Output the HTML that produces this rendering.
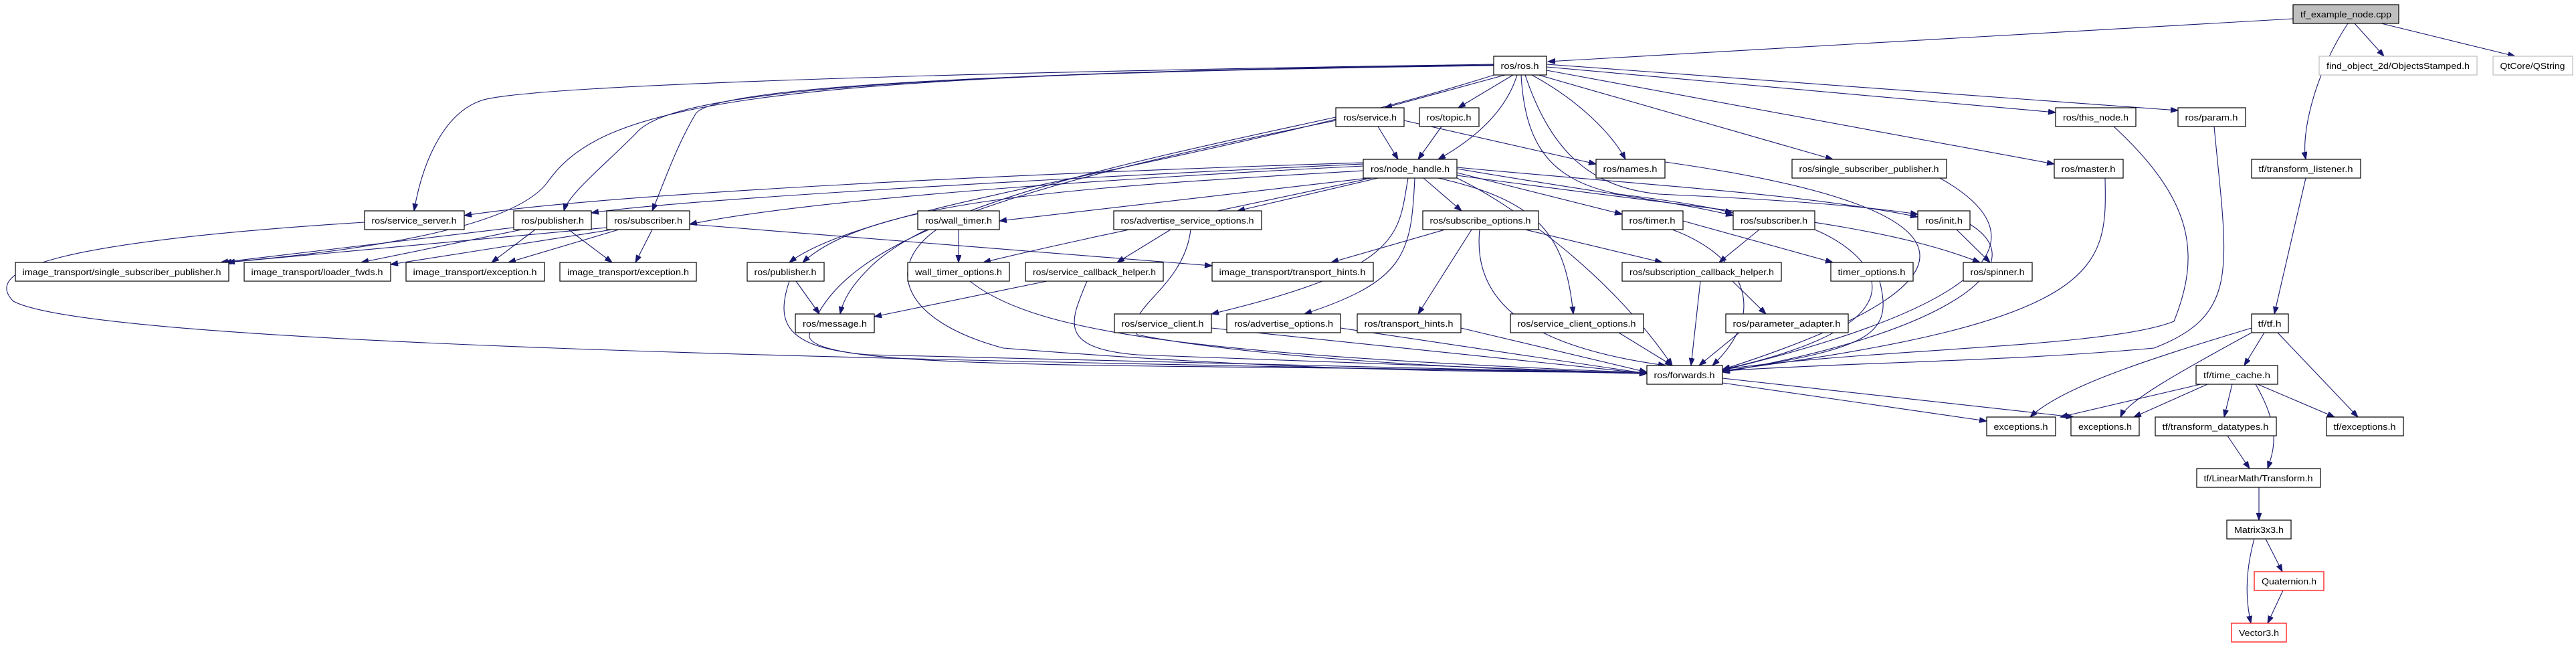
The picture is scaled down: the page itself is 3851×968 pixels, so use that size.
<!DOCTYPE html>
<html><head><meta charset="utf-8"><style>
html,body{margin:0;padding:0;background:#fff;}
svg{display:block;}
text{font-family:"Liberation Sans",sans-serif;font-size:13px;fill:#000;}
.n{fill:#fff;stroke:#000;stroke-width:1.2;}
.e{fill:none;stroke:#191970;stroke-width:1.1;marker-end:url(#ah);}
</style></head><body>
<svg width="3851" height="968" viewBox="0 0 3851 968" xmlns="http://www.w3.org/2000/svg">
<defs><marker id="ah" markerUnits="userSpaceOnUse" markerWidth="12" markerHeight="9" refX="11" refY="4" orient="auto"><path d="M0,0 L11,4 L0,8 z" fill="#191970" stroke="#191970"/></marker></defs>
<g>
<path class="e" d="M3428,28 L2314,92"/>
<path class="e" d="M3520,35 L3564,84"/>
<path class="e" d="M3560,35 L3760,84"/>
<path class="e" d="M3510,35 C3460,110 3440,200 3447,238"/>
<path class="e" d="M2233,96 C1300,110 780,130 720,150 C660,170 630,250 619,315"/>
<path class="e" d="M2233,98 C1100,110 900,160 820,270 C780,330 600,370 335,392"/>
<path class="e" d="M2233,97 C1200,110 990,150 950,200 C900,250 850,290 843,315"/>
<path class="e" d="M2233,98 C1300,110 1060,140 1040,170 C1010,220 990,280 975,315"/>
<path class="e" d="M2240,110 C1800,250 1300,300 1180,392"/>
<path class="e" d="M2250,112 L2070,161"/>
<path class="e" d="M2262,112 L2180,161"/>
<path class="e" d="M2268,112 C2250,170 2200,210 2150,238"/>
<path class="e" d="M2290,112 C2360,150 2410,200 2430,238"/>
<path class="e" d="M2274,112 C2280,220 2320,270 2420,290 C2500,300 2560,310 2590,318"/>
<path class="e" d="M2280,112 C2320,230 2380,280 2480,290 C2700,300 2800,310 2867,320"/>
<path class="e" d="M2300,112 L2740,238"/>
<path class="e" d="M2312,105 L3071,245"/>
<path class="e" d="M2312,100 L3073,168"/>
<path class="e" d="M2312,96 L3256,165"/>
<path class="e" d="M2060,189 L2090,238"/>
<path class="e" d="M2155,189 L2120,238"/>
<path class="e" d="M2099,180 L2386,245"/>
<path class="e" d="M1997,175 C1700,240 1400,300 1300,400 C1270,430 1260,450 1256,469"/>
<path class="e" d="M1997,180 C1500,280 1250,360 1210,500 C1200,560 1800,540 2462,558"/>
<path class="e" d="M2038,243 C1500,260 900,290 694,322"/>
<path class="e" d="M2038,245 C1500,270 1000,300 884,318"/>
<path class="e" d="M2038,248 C1600,270 1200,300 1031,335"/>
<path class="e" d="M2045,266 L1494,330"/>
<path class="e" d="M2060,266 L1850,315"/>
<path class="e" d="M2128,266 L2185,315"/>
<path class="e" d="M2178,258 L2425,320"/>
<path class="e" d="M2178,252 C2400,290 2500,300 2591,322"/>
<path class="e" d="M2178,250 C2500,280 2700,290 2867,324"/>
<path class="e" d="M2038,255 C1600,280 1300,300 1200,392"/>
<path class="e" d="M2050,266 C1800,320 1600,360 1470,392"/>
<path class="e" d="M2105,266 C2090,350 2100,400 1811,469"/>
<path class="e" d="M2115,266 C2110,380 2100,420 1950,469"/>
<path class="e" d="M2150,266 C2300,300 2340,350 2352,469"/>
<path class="e" d="M2178,262 C2600,320 2800,330 2960,392"/>
<path class="e" d="M2178,266 C2250,300 2400,400 2500,546"/>
<path class="e" d="M1433,343 L1433,392"/>
<path class="e" d="M1400,343 C1320,400 1350,480 1500,520 C2000,560 2300,555 2462,556"/>
<path class="e" d="M1750,343 L1670,392"/>
<path class="e" d="M1780,343 C1770,430 1680,460 1700,500 C1900,540 2300,555 2462,558"/>
<path class="e" d="M1031,335 L1812,397"/>
<path class="e" d="M907,340 L340,392"/>
<path class="e" d="M915,343 L584,395"/>
<path class="e" d="M925,343 L760,392"/>
<path class="e" d="M975,343 L950,392"/>
<path class="e" d="M768,340 L330,392"/>
<path class="e" d="M780,343 L540,392"/>
<path class="e" d="M800,343 L735,392"/>
<path class="e" d="M850,343 L915,392"/>
<path class="e" d="M545,332 C100,360 -30,400 20,450 C150,520 1500,540 2462,558"/>
<path class="e" d="M1190,420 L1225,469"/>
<path class="e" d="M1180,420 C1160,480 1170,520 1300,530 L2462,558"/>
<path class="e" d="M1565,420 L1307,473"/>
<path class="e" d="M1625,420 C1600,480 1580,520 1700,530 L2462,558"/>
<path class="e" d="M1450,420 C1550,500 1800,530 2462,557"/>
<path class="e" d="M2160,343 L1990,392"/>
<path class="e" d="M2280,343 L2485,392"/>
<path class="e" d="M2200,343 L2120,469"/>
<path class="e" d="M2212,343 C2200,460 2300,520 2490,546"/>
<path class="e" d="M2516,330 L2740,392"/>
<path class="e" d="M2500,343 C2600,380 2650,460 2560,546"/>
<path class="e" d="M2630,343 L2570,392"/>
<path class="e" d="M2713,343 C2800,380 2900,480 2575,552"/>
<path class="e" d="M2925,343 L2975,392"/>
<path class="e" d="M2945,335 C3050,400 2900,500 2575,556"/>
<path class="e" d="M2590,420 L2640,469"/>
<path class="e" d="M2542,420 L2528,546"/>
<path class="e" d="M2810,420 C2830,500 2800,520 2575,555"/>
<path class="e" d="M2600,497 L2540,546"/>
<path class="e" d="M1811,490 L2462,558"/>
<path class="e" d="M2004,490 L2462,558"/>
<path class="e" d="M2184,490 L2462,556"/>
<path class="e" d="M2420,497 L2500,546"/>
<path class="e" d="M2489,242 C2900,300 3050,400 2575,552"/>
<path class="e" d="M2900,266 C3050,350 3000,450 2575,553"/>
<path class="e" d="M3147,266 C3150,400 3150,480 2575,554"/>
<path class="e" d="M3160,189 C3280,300 3290,380 3250,480 C3150,520 2800,520 2575,552"/>
<path class="e" d="M3310,189 C3330,400 3350,470 3220,520 C3000,540 2800,540 2575,554"/>
<path class="e" d="M2575,572 L2970,629"/>
<path class="e" d="M2575,565 L3100,623"/>
<path class="e" d="M3447,266 L3400,469"/>
<path class="e" d="M3366,490 C3200,540 3080,580 3035,623"/>
<path class="e" d="M3366,497 C3250,560 3180,600 3170,623"/>
<path class="e" d="M3385,497 L3355,546"/>
<path class="e" d="M3405,497 L3525,623"/>
<path class="e" d="M3290,574 L3080,623"/>
<path class="e" d="M3300,574 L3190,623"/>
<path class="e" d="M3337,574 L3325,623"/>
<path class="e" d="M3375,574 L3490,623"/>
<path class="e" d="M3372,574 C3410,640 3400,670 3390,700"/>
<path class="e" d="M3330,651 L3363,700"/>
<path class="e" d="M3377,728 L3377,777"/>
<path class="e" d="M3387,805 L3412,854"/>
<path class="e" d="M3370,805 C3355,860 3358,900 3365,931"/>
<path class="e" d="M3413,882 L3390,931"/>
</g>
<g>
<rect x="3428" y="7" width="158" height="28" fill="#bfbfbf" stroke="#000" stroke-width="1.2"/><text x="3507" y="26" text-anchor="middle" textLength="136" lengthAdjust="spacingAndGlyphs">tf_example_node.cpp</text>
<rect class="n" x="2233" y="84" width="79" height="28"/><text x="2272" y="103" text-anchor="middle" textLength="57" lengthAdjust="spacingAndGlyphs">ros/ros.h</text>
<rect x="3467" y="84" width="236" height="28" fill="#fff" stroke="#bfbfbf" stroke-width="1.2"/><text x="3585" y="103" text-anchor="middle" textLength="214" lengthAdjust="spacingAndGlyphs">find_object_2d/ObjectsStamped.h</text>
<rect x="3727" y="84" width="119" height="28" fill="#fff" stroke="#bfbfbf" stroke-width="1.2"/><text x="3786" y="103" text-anchor="middle" textLength="97" lengthAdjust="spacingAndGlyphs">QtCore/QString</text>
<rect class="n" x="1997" y="161" width="102" height="28"/><text x="2048" y="180" text-anchor="middle" textLength="80" lengthAdjust="spacingAndGlyphs">ros/service.h</text>
<rect class="n" x="2122" y="161" width="89" height="28"/><text x="2166" y="180" text-anchor="middle" textLength="67" lengthAdjust="spacingAndGlyphs">ros/topic.h</text>
<rect class="n" x="3073" y="161" width="120" height="28"/><text x="3133" y="180" text-anchor="middle" textLength="98" lengthAdjust="spacingAndGlyphs">ros/this_node.h</text>
<rect class="n" x="3256" y="161" width="101" height="28"/><text x="3306" y="180" text-anchor="middle" textLength="79" lengthAdjust="spacingAndGlyphs">ros/param.h</text>
<rect class="n" x="2038" y="238" width="140" height="28"/><text x="2108" y="257" text-anchor="middle" textLength="118" lengthAdjust="spacingAndGlyphs">ros/node_handle.h</text>
<rect class="n" x="2386" y="238" width="103" height="28"/><text x="2437" y="257" text-anchor="middle" textLength="81" lengthAdjust="spacingAndGlyphs">ros/names.h</text>
<rect class="n" x="2679" y="238" width="231" height="28"/><text x="2794" y="257" text-anchor="middle" textLength="209" lengthAdjust="spacingAndGlyphs">ros/single_subscriber_publisher.h</text>
<rect class="n" x="3071" y="238" width="103" height="28"/><text x="3122" y="257" text-anchor="middle" textLength="81" lengthAdjust="spacingAndGlyphs">ros/master.h</text>
<rect class="n" x="3366" y="238" width="163" height="28"/><text x="3447" y="257" text-anchor="middle" textLength="141" lengthAdjust="spacingAndGlyphs">tf/transform_listener.h</text>
<rect class="n" x="545" y="315" width="149" height="28"/><text x="619" y="334" text-anchor="middle" textLength="127" lengthAdjust="spacingAndGlyphs">ros/service_server.h</text>
<rect class="n" x="768" y="315" width="116" height="28"/><text x="826" y="334" text-anchor="middle" textLength="94" lengthAdjust="spacingAndGlyphs">ros/publisher.h</text>
<rect class="n" x="907" y="315" width="124" height="28"/><text x="969" y="334" text-anchor="middle" textLength="102" lengthAdjust="spacingAndGlyphs">ros/subscriber.h</text>
<rect class="n" x="1372" y="315" width="122" height="28"/><text x="1433" y="334" text-anchor="middle" textLength="100" lengthAdjust="spacingAndGlyphs">ros/wall_timer.h</text>
<rect class="n" x="1665" y="315" width="221" height="28"/><text x="1775" y="334" text-anchor="middle" textLength="199" lengthAdjust="spacingAndGlyphs">ros/advertise_service_options.h</text>
<rect class="n" x="2127" y="315" width="173" height="28"/><text x="2213" y="334" text-anchor="middle" textLength="151" lengthAdjust="spacingAndGlyphs">ros/subscribe_options.h</text>
<rect class="n" x="2425" y="315" width="91" height="28"/><text x="2470" y="334" text-anchor="middle" textLength="69" lengthAdjust="spacingAndGlyphs">ros/timer.h</text>
<rect class="n" x="2591" y="315" width="122" height="28"/><text x="2652" y="334" text-anchor="middle" textLength="100" lengthAdjust="spacingAndGlyphs">ros/subscriber.h</text>
<rect class="n" x="2867" y="315" width="78" height="28"/><text x="2906" y="334" text-anchor="middle" textLength="56" lengthAdjust="spacingAndGlyphs">ros/init.h</text>
<rect class="n" x="23" y="392" width="319" height="28"/><text x="182" y="411" text-anchor="middle" textLength="297" lengthAdjust="spacingAndGlyphs">image_transport/single_subscriber_publisher.h</text>
<rect class="n" x="365" y="392" width="219" height="28"/><text x="474" y="411" text-anchor="middle" textLength="197" lengthAdjust="spacingAndGlyphs">image_transport/loader_fwds.h</text>
<rect class="n" x="607" y="392" width="207" height="28"/><text x="710" y="411" text-anchor="middle" textLength="185" lengthAdjust="spacingAndGlyphs">image_transport/exception.h</text>
<rect class="n" x="837" y="392" width="204" height="28"/><text x="939" y="411" text-anchor="middle" textLength="182" lengthAdjust="spacingAndGlyphs">image_transport/exception.h</text>
<rect class="n" x="1117" y="392" width="115" height="28"/><text x="1174" y="411" text-anchor="middle" textLength="93" lengthAdjust="spacingAndGlyphs">ros/publisher.h</text>
<rect class="n" x="1357" y="392" width="152" height="28"/><text x="1433" y="411" text-anchor="middle" textLength="130" lengthAdjust="spacingAndGlyphs">wall_timer_options.h</text>
<rect class="n" x="1533" y="392" width="206" height="28"/><text x="1636" y="411" text-anchor="middle" textLength="184" lengthAdjust="spacingAndGlyphs">ros/service_callback_helper.h</text>
<rect class="n" x="1812" y="392" width="241" height="28"/><text x="1932" y="411" text-anchor="middle" textLength="219" lengthAdjust="spacingAndGlyphs">image_transport/transport_hints.h</text>
<rect class="n" x="2425" y="392" width="238" height="28"/><text x="2544" y="411" text-anchor="middle" textLength="216" lengthAdjust="spacingAndGlyphs">ros/subscription_callback_helper.h</text>
<rect class="n" x="2737" y="392" width="123" height="28"/><text x="2798" y="411" text-anchor="middle" textLength="101" lengthAdjust="spacingAndGlyphs">timer_options.h</text>
<rect class="n" x="2935" y="392" width="103" height="28"/><text x="2986" y="411" text-anchor="middle" textLength="81" lengthAdjust="spacingAndGlyphs">ros/spinner.h</text>
<rect class="n" x="1189" y="469" width="118" height="28"/><text x="1248" y="488" text-anchor="middle" textLength="96" lengthAdjust="spacingAndGlyphs">ros/message.h</text>
<rect class="n" x="1666" y="469" width="145" height="28"/><text x="1738" y="488" text-anchor="middle" textLength="123" lengthAdjust="spacingAndGlyphs">ros/service_client.h</text>
<rect class="n" x="1834" y="469" width="170" height="28"/><text x="1919" y="488" text-anchor="middle" textLength="148" lengthAdjust="spacingAndGlyphs">ros/advertise_options.h</text>
<rect class="n" x="2029" y="469" width="155" height="28"/><text x="2106" y="488" text-anchor="middle" textLength="133" lengthAdjust="spacingAndGlyphs">ros/transport_hints.h</text>
<rect class="n" x="2258" y="469" width="199" height="28"/><text x="2357" y="488" text-anchor="middle" textLength="177" lengthAdjust="spacingAndGlyphs">ros/service_client_options.h</text>
<rect class="n" x="2580" y="469" width="183" height="28"/><text x="2671" y="488" text-anchor="middle" textLength="161" lengthAdjust="spacingAndGlyphs">ros/parameter_adapter.h</text>
<rect class="n" x="3366" y="469" width="55" height="28"/><text x="3393" y="488" text-anchor="middle" textLength="35" lengthAdjust="spacingAndGlyphs">tf/tf.h</text>
<rect class="n" x="2462" y="546" width="113" height="28"/><text x="2518" y="565" text-anchor="middle" textLength="91" lengthAdjust="spacingAndGlyphs">ros/forwards.h</text>
<rect class="n" x="3283" y="546" width="122" height="28"/><text x="3344" y="565" text-anchor="middle" textLength="100" lengthAdjust="spacingAndGlyphs">tf/time_cache.h</text>
<rect class="n" x="2970" y="623" width="103" height="28"/><text x="3021" y="642" text-anchor="middle" textLength="81" lengthAdjust="spacingAndGlyphs">exceptions.h</text>
<rect class="n" x="3096" y="623" width="102" height="28"/><text x="3147" y="642" text-anchor="middle" textLength="80" lengthAdjust="spacingAndGlyphs">exceptions.h</text>
<rect class="n" x="3222" y="623" width="181" height="28"/><text x="3312" y="642" text-anchor="middle" textLength="159" lengthAdjust="spacingAndGlyphs">tf/transform_datatypes.h</text>
<rect class="n" x="3478" y="623" width="115" height="28"/><text x="3535" y="642" text-anchor="middle" textLength="93" lengthAdjust="spacingAndGlyphs">tf/exceptions.h</text>
<rect class="n" x="3284" y="700" width="185" height="28"/><text x="3376" y="719" text-anchor="middle" textLength="163" lengthAdjust="spacingAndGlyphs">tf/LinearMath/Transform.h</text>
<rect class="n" x="3329" y="777" width="96" height="28"/><text x="3377" y="796" text-anchor="middle" textLength="74" lengthAdjust="spacingAndGlyphs">Matrix3x3.h</text>
<rect x="3370" y="854" width="104" height="28" fill="#fff" stroke="#ff0000" stroke-width="1.2"/><text x="3422" y="873" text-anchor="middle" textLength="82" lengthAdjust="spacingAndGlyphs">Quaternion.h</text>
<rect x="3336" y="931" width="82" height="28" fill="#fff" stroke="#ff0000" stroke-width="1.2"/><text x="3377" y="950" text-anchor="middle" textLength="60" lengthAdjust="spacingAndGlyphs">Vector3.h</text>
</g>
</svg>
</body></html>
